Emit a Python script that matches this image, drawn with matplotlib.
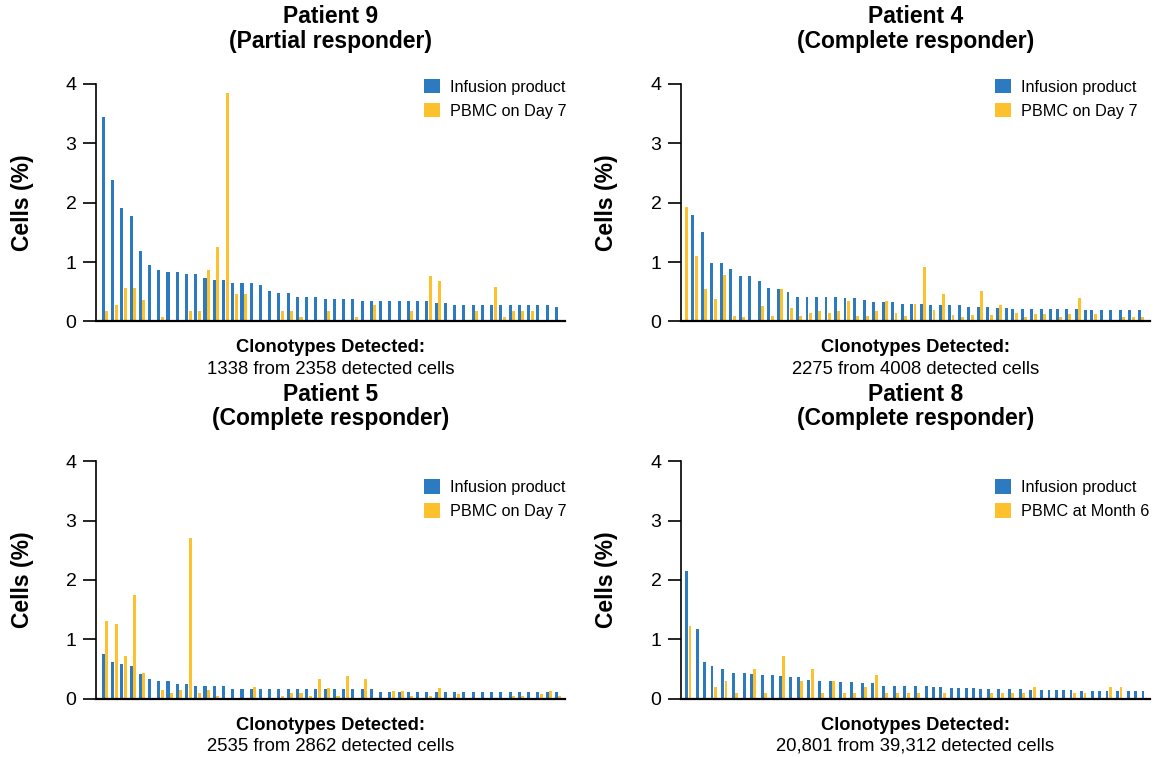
import numpy as np
import matplotlib
matplotlib.use("Agg")
import matplotlib.pyplot as plt

plt.rcParams['font.family'] = ['Liberation Sans', 'DejaVu Sans']

# ---------------- data ----------------
titles = [("Patient 9", "(Partial responder)"),
          ("Patient 4", "(Complete responder)"),
          ("Patient 5", "(Complete responder)"),
          ("Patient 8", "(Complete responder)")]
detected = ["1338 from 2358 detected cells",
            "2275 from 4008 detected cells",
            "2535 from 2862 detected cells",
            "20,801 from 39,312 detected cells"]
label_blue = "Infusion product"
label_yellow = ["PBMC on Day 7", "PBMC on Day 7", "PBMC on Day 7", "PBMC at Month 6"]

blue1 = [3.45, 2.38, 1.91, 1.77, 1.19, 0.945, 0.87, 0.84, 0.84, 0.80,
         0.80, 0.73, 0.70, 0.70, 0.65, 0.65, 0.65, 0.62, 0.51, 0.48,
         0.48, 0.41, 0.41, 0.41, 0.38, 0.38, 0.38, 0.38, 0.35, 0.35,
         0.35, 0.35, 0.35, 0.35, 0.35, 0.35, 0.31, 0.31, 0.28, 0.28,
         0.28, 0.28, 0.28, 0.28, 0.28, 0.28, 0.28, 0.28, 0.28, 0.24]
yellow1 = [0.17, 0.27, 0.565, 0.565, 0.37, 0, 0.08, 0, 0, 0.17,
           0.17, 0.86, 1.25, 3.84, 0.47, 0.47, 0, 0, 0, 0.17,
           0.17, 0.08, 0, 0, 0.17, 0, 0, 0.08, 0, 0.28,
           0, 0, 0, 0.18, 0, 0.77, 0.68, 0, 0, 0,
           0.18, 0, 0.58, 0.08, 0.18, 0.18, 0.18, 0, 0, 0]

blue2 = [None, 1.80, 1.50, 0.99, 0.99, 0.89, 0.76, 0.76, 0.69, 0.57,
         0.54, 0.50, 0.42, 0.42, 0.42, 0.42, 0.42, 0.40, 0.40, 0.37,
         0.32, 0.32, 0.32, 0.30, 0.30, 0.30, 0.28, 0.28, 0.28, 0.28,
         0.25, 0.25, 0.25, 0.23, 0.23, 0.21, 0.21, 0.21, 0.21, 0.21,
         0.21, 0.21, 0.21, 0.19, 0.19, 0.19, 0.19, 0.19, 0.19, 0.19]
yellow2 = [1.92, 1.11, 0.55, 0.38, 0.79, 0.10, 0.07, 0.02, 0.26, 0.10,
           0.54, 0.22, 0.10, 0.14, 0.18, 0.14, 0.18, 0.34, 0.10, 0.10,
           0.18, 0.34, 0.14, 0.10, 0.29, 0.92, 0.19, 0.47, 0.11, 0.07,
           0.11, 0.51, 0.11, 0.27, None, 0.15, 0.08, 0.12, 0.12, None,
           0.07, 0.12, 0.40, None, 0.12, 0.03, 0.03, 0.07, 0.07, 0.07]

blue3 = [0.75, 0.62, 0.58, 0.55, 0.42, 0.33, 0.29, 0.29, 0.25, 0.25,
         0.21, 0.21, 0.21, 0.21, 0.16, 0.16, 0.16, 0.16, 0.16, 0.16,
         0.16, 0.16, 0.16, 0.16, 0.16, 0.16, 0.16, 0.16, 0.16, 0.16,
         0.11, 0.11, 0.11, 0.11, 0.11, 0.11, 0.11, 0.11, 0.11, 0.11,
         0.11, 0.11, 0.11, 0.11, 0.11, 0.11, 0.11, 0.11, 0.11, 0.11]
yellow3 = [1.31, 1.25, 0.72, 1.74, 0.43, 0, 0.15, 0.10, 0.15, 2.70,
           0.10, 0.15, 0.05, 0, 0, 0, 0.19, 0, 0, 0.05,
           0.10, 0.10, 0.05, 0.33, 0.18, 0.04, 0.38, 0, 0.33, 0,
           0, 0.13, 0.13, 0.04, 0, 0.04, 0.18, 0, 0.08, 0,
           0, 0, 0, 0, 0.04, 0.04, 0, 0.08, 0.13, 0.04]

blue4 = [2.15, 1.17, 0.62, 0.545, 0.50, 0.43, 0.43, 0.41, 0.40, 0.40,
         0.38, 0.37, 0.36, 0.31, 0.29, 0.29, 0.275, 0.275, 0.26, 0.26,
         0.22, 0.22, 0.21, 0.21, 0.21, 0.20, 0.20, 0.185, 0.185, 0.175,
         0.175, 0.17, 0.17, 0.165, 0.165, 0.16, 0.15, 0.15, 0.14, 0.14,
         0.14, 0.14, 0.135, 0.135, 0.13, 0.13, 0.13, 0.125, 0.125, 0.125]
yellow4 = [1.22, None, None, 0.20, 0.30, 0.10, None, 0.50, 0.10, None,
           0.71, None, 0.30, 0.50, 0.10, 0.30, 0.10, 0.10, 0.20, 0.40,
           0.10, 0.10, 0.10, 0.10, None, None, 0.10, None, None, None,
           None, None, 0.10, 0.10, 0.10, 0.10, 0.20, None, None, None,
           None, 0.10, 0.10, None, None, 0.20, 0.20, None, None, None]

yticks = [0, 1, 2, 3, 4]

# ---------------- style / layout ----------------
C_BLUE = '#2C7BC0'
C_YEL = '#FCC12D'
W, H = 1156, 757
fig = plt.figure(figsize=(W / 100, H / 100), dpi=100)


def fx(px):
    return px / W


def fy(py):
    return 1 - py / H


def layout(blue, yellow, gap):
    xb, xyl = [], []
    x = 0.0
    for b, y in zip(blue, yellow):
        if b is not None:
            xb.append(x)
            x += 1
        else:
            xb.append(None)
        if y is not None:
            xyl.append(x)
            x += 1
        else:
            xyl.append(None)
        x += gap
    return xb, xyl


panels = [
    dict(blue=blue1, yellow=yellow1, gap=0.6, rect=(96, 565, 84, 321.5),
         fit=(103.3, 556.3), leg=(424, 98.8), ylab=22),
    dict(blue=blue2, yellow=yellow2, gap=0.82, rect=(681, 1150, 84, 321.5),
         fit=(686.7, 1139.3), leg=(995, 98.8), ylab=607),
    dict(blue=blue3, yellow=yellow3, gap=0.6, rect=(96, 565, 461.4, 698.6),
         fit=(103.3, 556.3), leg=(424, 499), ylab=22),
    dict(blue=blue4, yellow=yellow4, gap=1.2, rect=(681, 1150, 461.4, 698.6),
         fit=(686.7, 1143.0), leg=(995, 499), ylab=607),
]

for i, p in enumerate(panels):
    L, R, T, B = p['rect']
    ax = fig.add_axes([fx(L), fy(B), (R - L) / W, (B - T) / H])
    xb, xyl = layout(p['blue'], p['yellow'], p['gap'])
    bx = [x for x, v in zip(xb, p['blue']) if v is not None]
    bv = [v for v in p['blue'] if v is not None]
    yx = [x for x, v in zip(xyl, p['yellow']) if v is not None]
    yv = [v for v in p['yellow'] if v is not None]
    hb = ax.bar(bx, bv, width=0.86, color=C_BLUE, linewidth=0, label=label_blue)
    hy = ax.bar(yx, yv, width=0.86, color=C_YEL, linewidth=0, label=label_yellow[i])

    # x-limits so that the bars fill the axis like in the reference
    x_first = min(bx + yx)
    x_last = xb[-1]
    pf, pl = p['fit']
    scale = (pl - pf) / (x_last - x_first)
    ax.set_xlim(x_first - (pf - L) / scale, x_last + (R - pl) / scale)
    ax.set_ylim(0, 4)
    ax.set_yticks(yticks)
    ax.set_yticklabels([str(t) for t in yticks])
    ax.set_xticks([])
    for s in ['top', 'right']:
        ax.spines[s].set_visible(False)
    ax.spines['left'].set_linewidth(1.2)
    ax.spines['bottom'].set_linewidth(1.6)
    ax.tick_params(axis='y', length=9.5, width=1.2, labelsize=14, pad=4.5,
                   direction='out')

    cx = (L + R) / 2
    fig.text(fx(cx), fy(T - 60.7), titles[i][0], ha='center', va='baseline',
             fontsize=16.5, fontweight='bold')
    fig.text(fx(cx), fy(T - 36.0), titles[i][1], ha='center', va='baseline',
             fontsize=16.5, fontweight='bold')
    fig.text(fx(cx), fy(B + 31), "Clonotypes Detected:", ha='center',
             va='baseline', fontsize=13.2, fontweight='bold')
    fig.text(fx(cx), fy(B + 52), detected[i], ha='center', va='baseline',
             fontsize=13.3)
    fig.text(fx(p['ylab']), fy((T + B) / 2), "Cells (%)", rotation=90,
             ha='center', va='center', fontsize=16.5, fontweight='bold')

    lx, ly = p['leg']
    ax.legend(handles=[hb, hy], loc='center left',
              bbox_to_anchor=(fx(lx), fy(ly)), bbox_transform=fig.transFigure,
              frameon=False, fontsize=11.7, handlelength=1.0, handleheight=1.0,
              handletextpad=0.6, labelspacing=0.5, borderpad=0,
              borderaxespad=0)

fig.savefig("out.png", dpi=100)
